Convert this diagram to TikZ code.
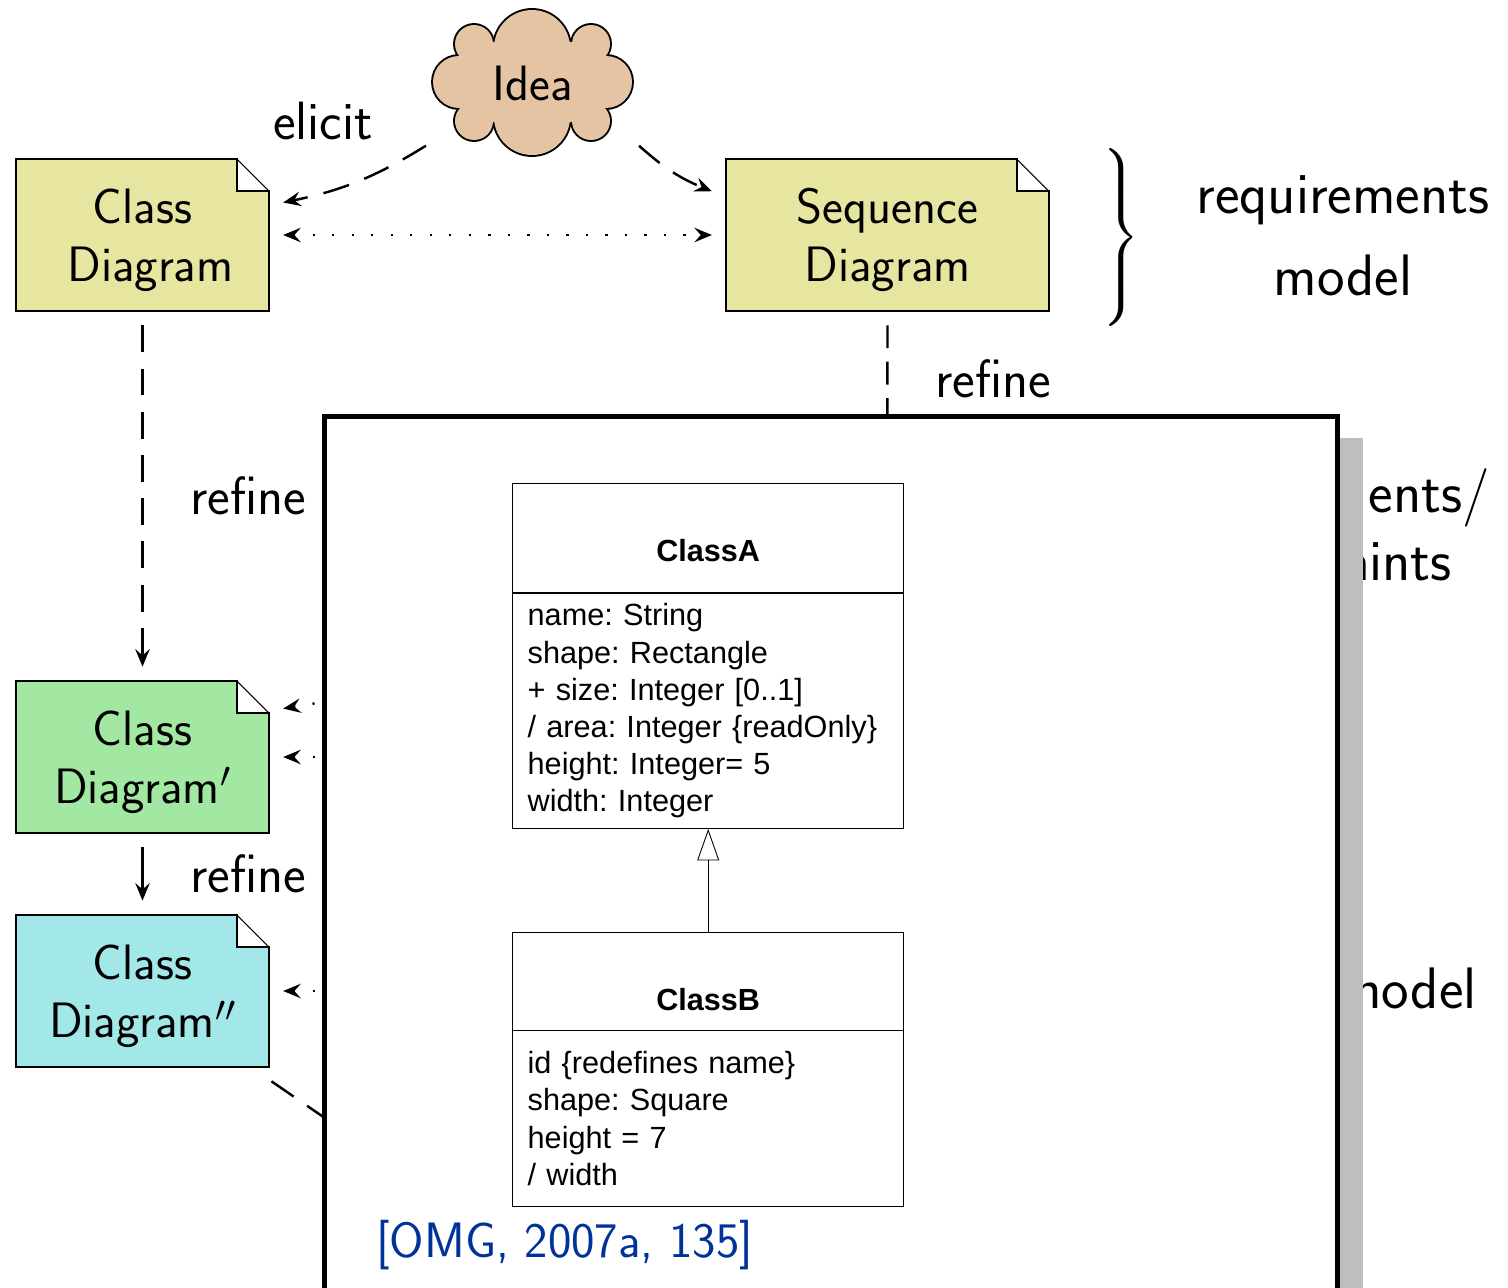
\documentclass[tikz,border=0pt]{standalone}
\usepackage{fontspec}
\usetikzlibrary{arrows.meta}
\definecolor{notekhaki}{RGB}{230,230,160}
\definecolor{notegreen}{RGB}{162,232,162}
\definecolor{noteteal}{RGB}{162,232,232}
\definecolor{ideatan}{RGB}{229,196,163}
\definecolor{shadowgrey}{RGB}{190,190,190}
\definecolor{citeblue}{RGB}{0,51,153}
\newfontfamily\umlfont{Liberation Sans}
\tikzset{
	note/.style={draw, line width=1.2pt, minimum height=86.4pt, inner sep=0pt, outer sep=8.2pt, align=center,
		font=\sffamily\fontsize{28.3}{32.9}\selectfont, execute at begin node={\rule{0pt}{58.7pt}}},
	lab/.style={font=\sffamily\fontsize{30.7}{36}\selectfont},
	biglab/.style={font=\sffamily\fontsize{33.3}{46.5}\selectfont, align=center},
	tip/.style={>={Stealth[length=10pt,width=8.2pt,inset=3.6pt]}},
	refine/.style={tip, line width=1.4pt, dash pattern=on 15.3pt off 9.3pt},
	trace/.style={tip, line width=1.4pt, dash pattern=on 1.2pt off 9.9pt},
	umlname/.style={draw, line width=0.5pt, minimum width=222.6pt, inner ysep=0pt, text height=44.8pt, font=\umlfont\bfseries\fontsize{17.4}{21}\selectfont},
	umlattr/.style={draw, line width=0.5pt, inner xsep=8.5pt, inner ysep=0pt, text width=205.5pt, align=left, font=\umlfont\frenchspacing\fontsize{17.45}{21.1}\selectfont},
}
\begin{document}
\begin{tikzpicture}[x=0.02cm,y=-0.02cm]
	\clip (0,0) rectangle (1508,1288);
	% texts behind the frame
	\node (reqcut) [biglab, anchor=east] at (1496,498) {ents/};
	\node (concut) [biglab, anchor=east] at (1458,562) {aints};
	\node (modcut) [biglab, anchor=east] at (1483,988) {model};
	% cloud
	\foreach \cx/\cy/\cr in {532/48/38, 532/117/38, 459/82/26, 606/82/26, 474/44/19, 591/44/19, 474/121/19, 591/121/19}
		\draw [line width=2.2pt] (\cx,\cy) circle (\cr);
	\foreach \cx/\cy/\cr in {532/48/38, 532/117/38, 459/82/26, 606/82/26, 474/44/19, 591/44/19, 474/121/19, 591/121/19}
		\fill [ideatan] (\cx,\cy) circle (\cr);
	\fill [ideatan] (532.5,82) ellipse (78 and 46);
	\node (idea) [minimum width=121.3pt, minimum height=71.4pt, inner sep=0pt, outer sep=0pt, font=\sffamily\fontsize{28.3}{32.9}\selectfont] at (532.5,83) {Idea};
	% notes
	\node (classd) [note, fill=notekhaki, minimum width=143.7pt] at (142.5,235) {Class\\\hspace*{9pt}Diagram};
	\node (seqd) [note, fill=notekhaki, minimum width=183.4pt] at (887.5,235) {Sequence\\Diagram};
	\node (classp) [note, fill=notegreen, minimum width=143.7pt] at (142.5,757) {Class\\Diagram$'$};
	\node (classq) [note, fill=noteteal, minimum width=143.7pt] at (142.5,991) {Class\\Diagram$''$};
	\foreach \n in {classd,seqd,classp,classq} {
		\fill [white] ([xshift=-26.3pt,yshift=-7pt]\n.north east) rectangle ([xshift=-7pt,yshift=-26.3pt]\n.north east);
		\draw [line width=1.2pt] ([xshift=-26.3pt,yshift=-7.6pt]\n.north east) -- ([xshift=-26.3pt,yshift=-26.3pt]\n.north east) -- ([xshift=-7.6pt,yshift=-26.3pt]\n.north east);
		\draw [line width=0.6pt] ([xshift=-26.3pt,yshift=-8.2pt]\n.north east) -- ([xshift=-8.2pt,yshift=-26.3pt]\n.north east);
	}
	% labels
	\node (elicit) [lab] at (323,121) {elicit};
	\node (refA) [lab] at (248,496) {refine};
	\node (refB) [lab] at (993,379) {refine};
	\node (refC) [lab] at (248,874) {refine};
	\node (brace) [scale=2.4] at (1119,237.5) {$\left.\rule[-18.2pt]{0pt}{41.4pt}\right\}$};
	\node (reqmod) [biglab] at (1343,235.5) {requirements\\model};
	% connectors
	\coordinate (hidA) at (700,640);
	\coordinate (hidB) at (700,757);
	\coordinate (hidC) at (700,991);
	\coordinate (hidD) at (700,1376);
	\coordinate (hidE) at (887,700);
	\draw [refine, ->] (idea.south west) to [bend left=10] (classd.13.6);
	\draw [refine, ->] (idea.south east) to [bend right=10] (seqd.166);
	\draw [trace, <->] (classd.east) -- (seqd.west);
	\draw [refine, ->] (classd.south) -- (classp.north);
	\draw [tip, line width=1.4pt, ->] (classp.south) -- (classq.north);
	\draw [refine, dash pattern=on 13pt off 7.7pt] (seqd.south) -- (hidE);
	\draw [trace, <-] (classp.19.2) -- (hidA);
	\draw [trace, <-] (classp.east) -- (hidB);
	\draw [trace, <-] (classq.east) -- (hidC);
	\draw [refine] (classq.-35.4) -- (hidD);
	% frame
	\fill [shadowgrey] (350,438) rectangle (1363,1300);
	\node (frame) [draw, fill=white, line width=2.8pt, minimum width=576.5pt, minimum height=497.1pt, inner sep=0pt, outer sep=0pt] at (830.75,853.6) {};
	% uml boxes
	\node (nameA) [umlname, text depth=17.6pt] at (708.2,538) {ClassA};
	\node (attrA) [umlattr, minimum height=134pt] at (708.2,710.7) {name: String\\shape: Rectangle\\+ size: Integer [0..1]\\/ area: Integer \{readOnly\}\\height: Integer= 5\\width: Integer};
	\node (nameB) [umlname, text depth=11.3pt] at (708.2,981.5) {ClassB};
	\node (attrB) [umlattr, minimum height=99.8pt] at (708.2,1118.5) {id \{redefines name\}\\shape: Square\\height = 7\\/ width};
	\draw [line width=0.5pt, -{Triangle[open,length=18pt,width=12.5pt]}] (nameB) -- (attrA);
	\node (cite) [anchor=base west, text=citeblue, inner sep=0pt, font=\sffamily\fontsize{28.3}{32.9}\selectfont] at (376,1257) {[OMG, 2007a, 135]};
\end{tikzpicture}
\end{document}
